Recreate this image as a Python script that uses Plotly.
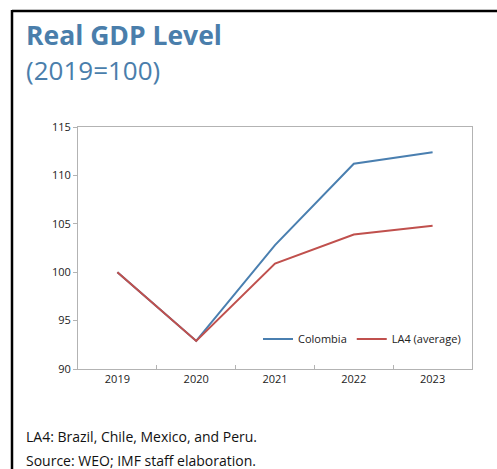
import plotly.graph_objects as go

years = ["2019", "2020", "2021", "2022", "2023"]
colombia = [100.0, 92.9, 102.8, 111.2, 112.4]
la4 = [100.0, 92.9, 100.9, 103.9, 104.8]

W, H = 497, 469
PL, PR, PT, PB = 78, 472, 127, 369  # plot box in screen pixels
L, R, T, B = PL, W - PR, PT, H - PB
pw, ph = W - L - R, H - T - B

def px(x):
    return (x - PL) / pw

def py(y):
    return (PB - y) / ph

fig = go.Figure()
fig.add_trace(go.Scatter(x=years, y=colombia, mode="lines", name="Colombia",
                         line=dict(color="#4a7fb0", width=2)))
fig.add_trace(go.Scatter(x=years, y=la4, mode="lines", name="LA4 (average)",
                         line=dict(color="#c0504d", width=2)))

font = "Open Sans, Noto Sans, sans-serif"
frame = dict(color="black", width=2.5)
fig.update_layout(
    width=W, height=H,
    margin=dict(l=L, r=R, t=T, b=B),
    paper_bgcolor="white", plot_bgcolor="white",
    font=dict(family=font, size=11, color="#222"),
    showlegend=True,
    legend=dict(orientation="h", x=px(466), xanchor="right", y=py(339), yanchor="middle",
                bgcolor="rgba(0,0,0,0)", font=dict(size=11, color="#222"),
                itemwidth=30, tracegroupgap=0),
    xaxis=dict(type="category", range=[-0.5, 4.5], showline=True, linecolor="#b3b3b3",
               linewidth=1, mirror=True, showgrid=False, ticks="inside", tickson="boundaries",
               ticklen=4, tickcolor="#b3b3b3", tickfont=dict(size=11, color="#222")),
    yaxis=dict(range=[90, 115], dtick=5, showline=True, linecolor="#b3b3b3", linewidth=1,
               mirror=True, showgrid=False, zeroline=False, ticks="outside", ticklen=4,
               tickcolor="#b3b3b3", tickfont=dict(size=11, color="#222")),
    shapes=[
        dict(type="line", xref="paper", yref="paper", x0=px(12), x1=px(520),
             y0=py(11), y1=py(11), line=frame, layer="below"),
        dict(type="line", xref="paper", yref="paper", x0=px(12), x1=px(12),
             y0=py(10), y1=py(520), line=frame, layer="below"),
    ],
    annotations=[
        dict(text="<b>Real GDP Level</b>", xref="paper", yref="paper", x=px(24), y=py(15),
             xanchor="left", yanchor="top", showarrow=False,
             font=dict(size=26.5, color="#4a7eab", family=font)),
        dict(text="(2019=100)", xref="paper", yref="paper", x=px(24), y=py(50),
             xanchor="left", yanchor="top", showarrow=False,
             font=dict(size=26, color="#4a7eab", family=font)),
        dict(text="LA4: Brazil, Chile, Mexico, and Peru.", xref="paper", yref="paper",
             x=px(24), y=py(425), xanchor="left", yanchor="top", showarrow=False,
             font=dict(size=14, color="#111", family=font)),
        dict(text="Source: WEO; IMF staff elaboration.", xref="paper", yref="paper",
             x=px(24), y=py(449), xanchor="left", yanchor="top", showarrow=False,
             font=dict(size=14, color="#111", family=font)),
    ],
)

fig.write_html("out.html", config={"displayModeBar": False},
               post_script="document.body.style.margin='0';document.body.style.overflow='hidden';")
